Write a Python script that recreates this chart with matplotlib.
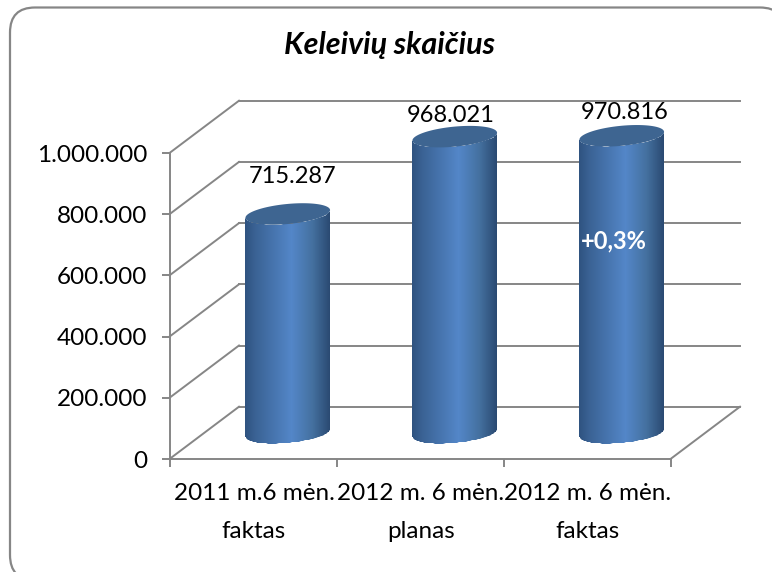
import numpy as np
import matplotlib
matplotlib.use("Agg")
import matplotlib.pyplot as plt
from matplotlib.colors import LinearSegmentedColormap
from matplotlib.patches import FancyBboxPatch, Polygon
from matplotlib.transforms import Affine2D, IdentityTransform

### Data
categories = ["2011 m.6 mėn.\nfaktas", "2012 m. 6 mėn.\nplanas", "2012 m. 6 mėn.\nfaktas"]
passengers = [715287, 968021, 970816]
value_labels = ["715.287", "968.021", "970.816"]
y_ticks = [0, 200000, 400000, 600000, 800000, 1000000]
y_tick_labels = ["0", "200.000", "400.000", "600.000", "800.000", "1.000.000"]

W, H = 772, 572
plt.rcParams['font.family'] = ['Lato', 'DejaVu Sans']

fig = plt.figure(figsize=(W / 100, H / 100), dpi=100)

### Frame, runs past the right and bottom edge of the picture
bg = fig.add_axes([0, 0, 1, 1])
bg.set_xlim(0, W)
bg.set_ylim(H, 0)
bg.axis("off")
bg.add_patch(FancyBboxPatch((10 + 25, 7.5 + 25), 775 - 50, 572.5 - 50,
                            boxstyle="round,pad=25,rounding_size=25",
                            fc="white", ec="#868686", lw=1.6, clip_on=True))

### Front plane of the chart
left, right, top, bottom = 169.5, 670.5, 153, 459
ax = fig.add_axes([left / W, 1 - bottom / H, (right - left) / W, (bottom - top) / H])
ax.set_xlim(0, 3)
ax.set_ylim(0, 1000000)
ax.patch.set_visible(False)
for s in ["top", "right"]:
    ax.spines[s].set_visible(False)
for s in ["left", "bottom"]:
    ax.spines[s].set_color("#868686")
    ax.spines[s].set_linewidth(1.4)
ax.set_xticks([0, 1, 2, 3])
ax.set_xticklabels([])
ax.set_yticks(y_ticks)
ax.set_yticklabels(y_tick_labels, fontsize=17.5)
ax.tick_params(axis="both", color="#868686", width=1.4, length=6)
ax.tick_params(axis="y", pad=10)

### Depth of the 3d box, in pixels
dx, dy = 69.5, 52.3
back = ax.transData + Affine2D().translate(dx, dy)
mid = ax.transData + Affine2D().translate(dx / 2, dy / 2)

for v in y_ticks:
    ax.plot([0, 3], [v, v], color="#868686", lw=1.4, transform=back, clip_on=False, zorder=1)
    p0 = ax.transData.transform((0, v))
    ax.plot([p0[0], p0[0] + dx], [p0[1], p0[1] + dy], color="#868686", lw=1.4,
            transform=IdentityTransform(), clip_on=False, zorder=1)
p0 = ax.transData.transform((3, 0))
ax.plot([p0[0], p0[0] + dx], [p0[1], p0[1] + dy], color="#868686", lw=1.4,
        transform=IdentityTransform(), clip_on=False, zorder=1)

### Cylinders
side_cmap = LinearSegmentedColormap.from_list(
    "side", [(0, "#2f5380"), (0.12, "#3a6294"), (0.55, "#5386c8"), (0.8, "#44709f"), (1, "#2a4a72")])
half_w, half_h, tilt = 42.5, 10, np.deg2rad(5.5)
cap_color = "#3e6591"


def ellipse_xy(cx, cy, t):
    ex = half_w * np.cos(t)
    ey = half_h * np.sin(t)
    return (cx + ex * np.cos(tilt) - ey * np.sin(tilt),
            cy + ex * np.sin(tilt) + ey * np.cos(tilt))


for i, v in enumerate(passengers):
    base = mid.transform((i + 0.5, 0))
    head = mid.transform((i + 0.5, v))
    t_low = np.linspace(np.pi, 2 * np.pi, 60)
    bx, by = ellipse_xy(base[0], base[1], t_low)
    tx, ty = ellipse_xy(head[0], head[1], t_low)
    outline = np.vstack([np.column_stack([bx, by]), np.column_stack([tx, ty])[::-1]])

    X = np.linspace(base[0] - half_w, base[0] + half_w, 86)
    Y = np.array([base[1] - 30, head[1] + 30])
    C = np.linspace(0, 1, 85).reshape(1, -1)
    mesh = ax.pcolormesh(X, Y, C, cmap=side_cmap, transform=IdentityTransform(),
                         zorder=3, shading="flat")
    mesh.set_clip_path(Polygon(outline, transform=IdentityTransform()))
    mesh.set_clip_box(fig.bbox)

    cx, cy = ellipse_xy(head[0], head[1], np.linspace(0, 2 * np.pi, 120))
    ax.add_patch(Polygon(np.column_stack([cx, cy]), closed=True, fc=cap_color, ec="none",
                         transform=IdentityTransform(), clip_on=False, zorder=4))

### Value labels
label_pos = [(293, 177), (451, 115), (625, 113)]
for txt, (lx, ly) in zip(value_labels, label_pos):
    fig.text(lx / W, 1 - ly / H, txt, ha="center", va="center", fontsize=17, color="black", zorder=10)
fig.text(614 / W, 1 - 241 / H, "+0,3%", ha="center", va="center", fontsize=17, fontweight="bold",
         color="white", zorder=10)

### Category labels
for i, c in enumerate(categories):
    line1, line2 = c.split("\n")
    fig.text((254 + i * 167) / W, 1 - 494 / H, line1, ha="center", va="center", fontsize=17.5)
    fig.text((254 + i * 167) / W, 1 - 531 / H, line2, ha="center", va="center", fontsize=17.5)

fig.text(390 / W, 1 - 45 / H, "Keleivių skaičius", ha="center", va="center", fontsize=22,
         fontweight="bold", fontstyle="italic")

fig.savefig("out.png", dpi=100)
